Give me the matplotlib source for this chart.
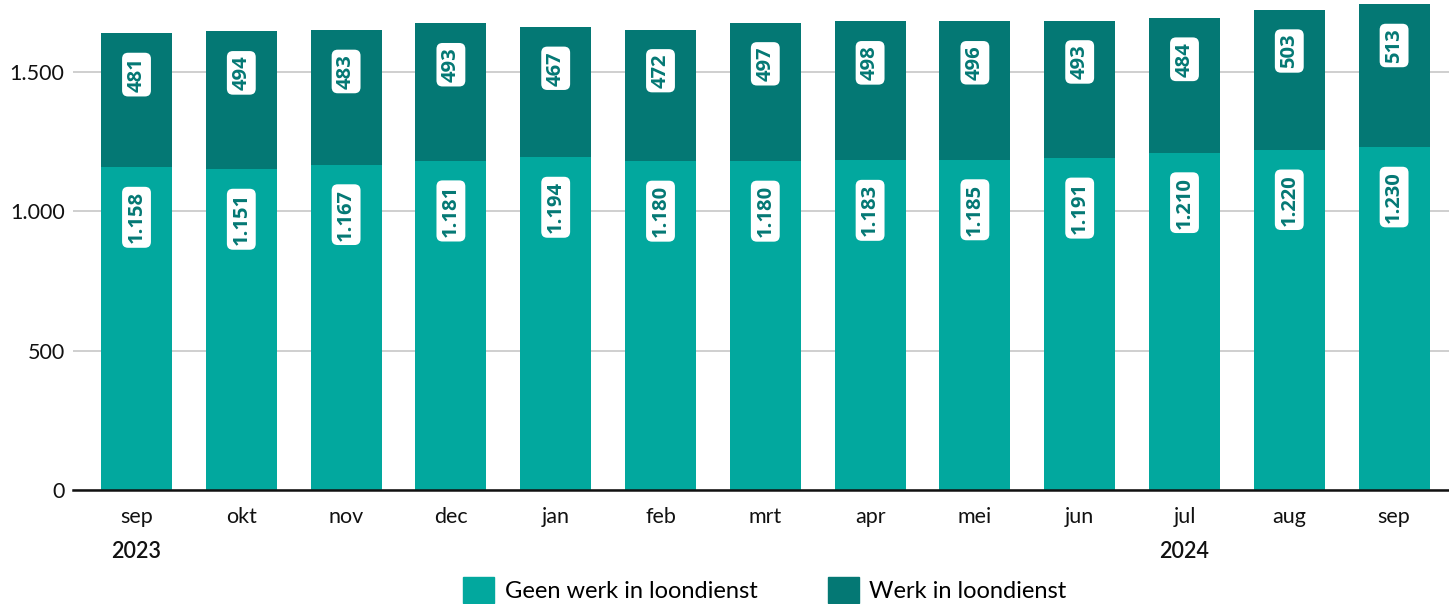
import matplotlib
matplotlib.use("Agg")
import matplotlib.pyplot as plt
from matplotlib.patches import Patch
from matplotlib.transforms import blended_transform_factory

plt.rcParams['font.family'] = ['Lato', 'DejaVu Sans']

months = ["sep", "okt", "nov", "dec", "jan", "feb", "mrt", "apr", "mei", "jun", "jul", "aug", "sep"]
geen_werk = [1158, 1151, 1167, 1181, 1194, 1180, 1180, 1183, 1185, 1191, 1210, 1220, 1230]
werk = [481, 494, 483, 493, 467, 472, 497, 498, 496, 493, 484, 503, 513]
years = [(0, "2023"), (10, "2024")]
yticks = [0, 500, 1000, 1500]
series_names = ["Geen werk in loondienst", "Werk in loondienst"]

c_light = "#02A89E"
c_dark = "#047874"

def fmt(v):
    return f"{v:,}".replace(",", ".")

fig = plt.figure(figsize=(14.49, 6.04), dpi=100)
ax = fig.add_axes([73/1449, 114/604, 1 - 73/1449, 490/604])

x = list(range(len(months)))
w = 0.677
ax.bar(x, geen_werk, width=w, color=c_light, zorder=2)
ax.bar(x, werk, width=w, bottom=geen_werk, color=c_dark, zorder=2)

for i in x:
    for top, v in ((geen_werk[i], geen_werk[i]), (geen_werk[i] + werk[i], werk[i])):
        ax.annotate(fmt(v), xy=(i, top), xytext=(0, -24), textcoords='offset pixels',
                    rotation=90, ha='center', va='top', fontsize=14.5, fontweight='bold',
                    family=['Open Sans', 'DejaVu Sans'],
                    color=c_dark, zorder=4,
                    bbox=dict(boxstyle='round,pad=0.22,rounding_size=0.3', fc='white', ec='none'))

ax.set_xlim(-0.606, 12.524)
ax.set_ylim(0, 1758)
ax.set_yticks(yticks)
ax.set_yticklabels([fmt(v) for v in yticks])
ax.set_xticks(x)
ax.set_xticklabels(months)
ax.tick_params(axis='both', length=0, labelsize=15.5, colors='#111111')
ax.tick_params(axis='x', pad=12)
ax.tick_params(axis='y', pad=6)
ax.grid(axis='y', color='#cccccc', linewidth=1.3, zorder=0)
for s in ['top', 'right', 'left']:
    ax.spines[s].set_visible(False)
ax.spines['bottom'].set_linewidth(1.8)
ax.spines['bottom'].set_color('#111111')
ax.spines['bottom'].set_zorder(3)

tr = blended_transform_factory(ax.transData, fig.transFigure)
for i, yr in years:
    fig.text(i, (604 - 552) / 604, yr, transform=tr, ha='center', va='center',
             fontsize=15.5, fontweight='semibold', color='#111111')

handles = [Patch(color=c_light), Patch(color=c_dark)]
fig.legend(handles, series_names, loc='center', bbox_to_anchor=(765/1449, 14/604),
           ncol=2, frameon=False, fontsize=17, handlelength=1.3, handleheight=1.3,
           handletextpad=0.45, columnspacing=3.0, borderaxespad=0, borderpad=0)

fig.savefig("out.png", dpi=100)
